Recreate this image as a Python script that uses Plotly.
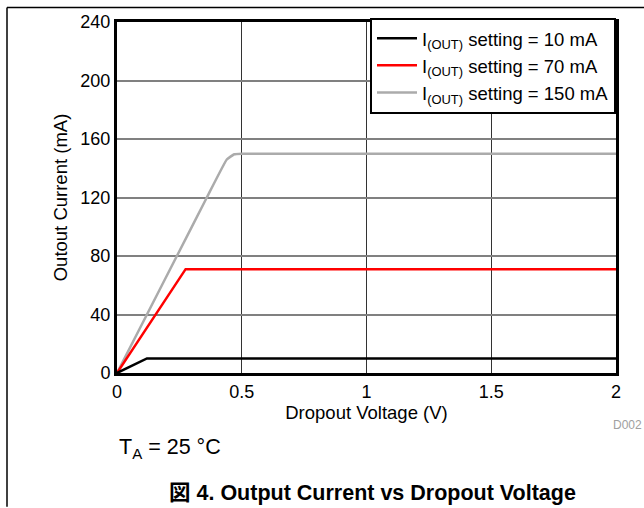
import plotly.graph_objects as go

# Data
v_10 = [0, 0.12, 2.0]
i_10 = [0, 10, 10]
v_70 = [0, 0.275, 2.0]
i_70 = [0, 71, 71]
v_150 = [0, 0.12, 0.24, 0.36, 0.44, 0.47, 0.5, 2.0]
i_150 = [0, 40, 80, 120, 146, 149.6, 150, 150]

series_names = ["I<sub>(OUT)</sub> setting = 10 mA",
                "I<sub>(OUT)</sub> setting = 70 mA",
                "I<sub>(OUT)</sub> setting = 150 mA"]
x_ticks = [0, 0.5, 1, 1.5, 2]
x_tick_labels = ["0", "0.5", "1", "1.5", "2"]
y_ticks = [0, 40, 80, 120, 160, 200, 240]

FONT = "Liberation Sans, Arial, sans-serif"

fig = go.Figure()
fig.add_trace(go.Scatter(x=v_150, y=i_150, mode="lines", name=series_names[2],
                         line=dict(color="#ababab", width=2.5, shape="spline", smoothing=0.3),
                         legendrank=3))
fig.add_trace(go.Scatter(x=v_70, y=i_70, mode="lines", name=series_names[1],
                         line=dict(color="#ff0000", width=2.5), legendrank=2))
fig.add_trace(go.Scatter(x=v_10, y=i_10, mode="lines", name=series_names[0],
                         line=dict(color="#000000", width=2.5), legendrank=1))

L, R, T, B = 117, 28, 19, 135
W, H = 644, 508
pw, ph = W - L - R, H - T - B

def px(xp):
    return (xp - L) / pw

def py(yp):
    return 1 - (yp - T) / ph

fig.update_layout(
    width=W, height=H,
    margin=dict(l=L, r=R, t=T, b=B),
    paper_bgcolor="white", plot_bgcolor="white",
    font=dict(family=FONT, size=18, color="black"),
    showlegend=True,
    legend=dict(x=1, xanchor="right", y=1.012, yanchor="top",
                bgcolor="white", bordercolor="black", borderwidth=2,
                font=dict(family=FONT, size=18.5), tracegroupgap=0,
                itemwidth=40, traceorder="normal"),
    xaxis=dict(range=[0, 2], tickvals=x_ticks, ticktext=x_tick_labels,
               showgrid=True, gridcolor="#333333", gridwidth=1,
               showline=True, linecolor="black", linewidth=3, mirror=True,
               ticks="", zeroline=False, tickfont=dict(size=18),
               title=dict(text="Dropout Voltage (V)", font=dict(size=18.5), standoff=2)),
    yaxis=dict(range=[0, 240], tickvals=y_ticks,
               showgrid=True, gridcolor="#808080", gridwidth=1.5,
               showline=True, linecolor="black", linewidth=3, mirror=True,
               ticks="", zeroline=False, tickfont=dict(size=18),
               title=dict(text="Outout Current (mA)", font=dict(size=18.5), standoff=8)),
    shapes=[
        dict(type="line", xref="paper", yref="paper", x0=px(7), x1=px(644), y0=py(4.5), y1=py(4.5),
             line=dict(color="black", width=1.5)),
        dict(type="line", xref="paper", yref="paper", x0=px(7), x1=px(7), y0=py(4.5), y1=py(508),
             line=dict(color="black", width=1.5)),
    ],
    annotations=[
        dict(text="D002", xref="paper", yref="paper", x=px(644), y=py(425), xanchor="right", yanchor="middle",
             showarrow=False, font=dict(size=12, color="#a0a0a0")),
        dict(text="T<sub>A</sub> = 25 °C", xref="paper", yref="paper", x=px(117), y=py(449), xanchor="left",
             yanchor="middle", showarrow=False, font=dict(size=21.5)),
        dict(text="<b>図 4. Output Current vs Dropout Voltage</b>", xref="paper", yref="paper",
             x=px(372), y=py(494), xanchor="center", yanchor="middle", showarrow=False,
             font=dict(size=21.5, family="Liberation Sans, Noto Sans CJK JP, sans-serif")),
    ],
)

fig.write_html("out.html", config={"displayModeBar": False},
               post_script="document.body.style.margin='0';document.body.style.overflow='hidden';")
